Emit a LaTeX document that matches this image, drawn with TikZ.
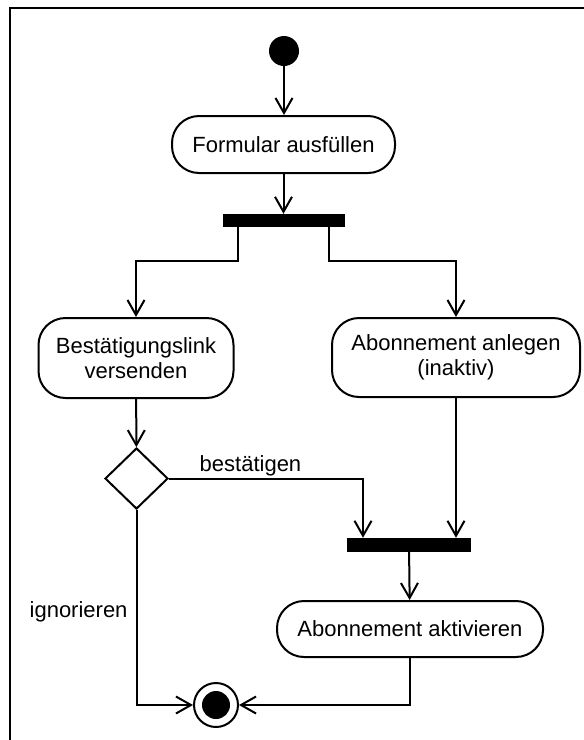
\documentclass[tikz,border=0pt]{standalone}
\usepackage{fontspec}
\setmainfont{Liberation Sans}
\usepackage{tikz}
\usetikzlibrary{arrows.meta,shapes.geometric}

\tikzset{
  action/.style = {draw, line width = 2pt, rounded corners = 27pt,
                   align = center, inner sep = 0pt},
  syncbar/.style = {fill = black, inner sep = 0pt},
  decision/.style = {draw, diamond, line width = 2pt, inner sep = 0pt,
                     minimum width = 63pt, minimum height = 61pt},
  flow/.style = {line width = 2pt,
                 -{Straight Barb[length = 15pt, width = 17pt, line width = 2pt]}},
  txt/.style = {inner sep = 0pt}
}

\begin{document}
\begin{tikzpicture}[x = 1pt, y = -1pt, font = \fontsize{22}{25}\selectfont]

\useasboundingbox (0,0) rectangle (584,740);

\draw[line width = 2pt] (10,740) -- (10,8) -- (584,8);

\node[circle, fill = black, inner sep = 0pt, minimum size = 30pt] (start) at (284,51) {};

\node[action, minimum width = 223pt, minimum height = 57pt] (formular) at (283.5,144.5) {Formular ausfüllen};

\node[syncbar, minimum width = 122pt, minimum height = 13pt] (fork) at (284,220.5) {};

\node[action, minimum width = 195pt, minimum height = 80pt] (link) at (136,358) {Bestätigungslink\\versenden};

\node[action, minimum width = 248pt, minimum height = 79pt] (anlegen) at (456,357.5) {Abonnement anlegen\\(inaktiv)};

\node[decision] (check) at (136.5,478.5) {};

\node[syncbar, minimum width = 124pt, minimum height = 14pt] (join) at (409,545) {};

\node[action, minimum width = 266pt, minimum height = 56pt] (aktivieren) at (410,629) {Abonnement aktivieren};

\node[circle, draw, line width = 2pt, inner sep = 0pt, minimum size = 44pt] (final) at (216,705) {};
\node[circle, fill = black, inner sep = 0pt, minimum size = 28pt] (finaldot) at (final) {};

\draw[flow] (start.south) to (start.south |- formular.north);
\draw[flow] (formular.south) to (formular.south |- fork.north);

\draw[flow] ([xshift = -46pt]fork.south) -- ++(0,34) -| (link.north);
\draw[flow] ([xshift = 45pt]fork.south) -- ++(0,34) -| (anlegen.north);

\draw[flow] (link) to (check);

\draw[flow] (check.east) -| ([xshift = -46pt]join.north)
  node[txt, pos = 0.21, above = 1pt] (lblok) {bestätigen};
\draw[flow] (anlegen.south) to (anlegen.south |- join.north);

\draw[flow] (join) to (aktivieren);

\draw[flow] (check.south) |- (final.west)
  node[txt, pos = 0.26, left = 8pt] (lblignore) {ignorieren};
\draw[flow] (aktivieren.south) |- (final.east);

\end{tikzpicture}
\end{document}
